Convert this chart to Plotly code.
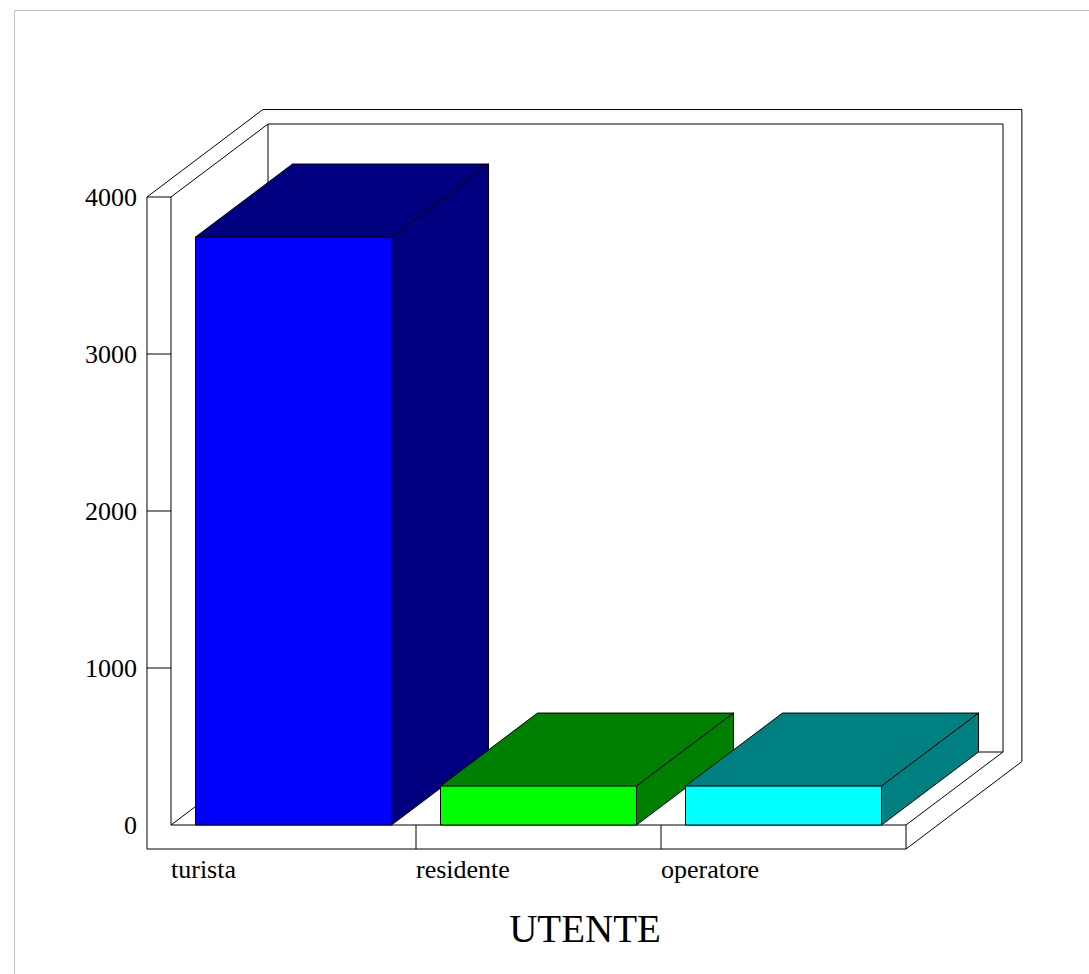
import plotly.graph_objects as go

categories = ["turista", "residente", "operatore"]
values = [3745, 248, 248]
front_colors = ["#0000ff", "#00ff00", "#00ffff"]
side_colors = ["#000080", "#008000", "#008080"]
y_ticks = [0, 1000, 2000, 3000, 4000]
x_title = "UTENTE"

# Scale: one category = 245 px, 1000 units = 157 px
DEPTH_X = 0.396
DEPTH_Y = 465
WALL_X = 0.098
WALL_Y = 153
WALL_DX = 0.473
WALL_DY = 557
BAR_PAD = 0.1
N = len(categories)
Y_MAX = y_ticks[-1]

LINE = dict(color="black", width=1)
fig = go.Figure()


def poly(xs, ys, fill=None):
    fig.add_trace(go.Scatter(
        x=xs, y=ys, mode="lines", line=LINE, cliponaxis=False,
        hoverinfo="skip", showlegend=False,
        fill="toself" if fill else None, fillcolor=fill,
    ))


# Outer frame
poly([-WALL_X, -WALL_X + WALL_DX, N + WALL_DX, N + WALL_DX, N, -WALL_X, -WALL_X],
     [Y_MAX, Y_MAX + WALL_DY, Y_MAX + WALL_DY, WALL_DY - WALL_Y, -WALL_Y, -WALL_Y, Y_MAX])
# Inner wall and floor of the frame
poly([-WALL_X, 0, 0, DEPTH_X, DEPTH_X, N + DEPTH_X, N + DEPTH_X, N, 0],
     [Y_MAX, Y_MAX, 0, DEPTH_Y, Y_MAX + DEPTH_Y, Y_MAX + DEPTH_Y, DEPTH_Y, 0, 0])
poly([0, DEPTH_X], [Y_MAX, Y_MAX + DEPTH_Y])
poly([DEPTH_X, N + DEPTH_X], [DEPTH_Y, DEPTH_Y])
poly([N, N], [0, -WALL_Y])
# Y ticks on the side wall, X separators on the floor edge
for t in y_ticks[1:-1]:
    poly([-WALL_X, 0], [t, t])
for i in range(1, N):
    poly([i, i], [0, -WALL_Y])

# Bars
for i, v in enumerate(values):
    x0, x1 = i + BAR_PAD, i + 1 - BAR_PAD
    poly([x0, x0 + DEPTH_X, x1 + DEPTH_X, x1, x0], [v, v + DEPTH_Y, v + DEPTH_Y, v, v], side_colors[i])
    poly([x1, x1 + DEPTH_X, x1 + DEPTH_X, x1, x1], [0, DEPTH_Y, v + DEPTH_Y, v, 0], side_colors[i])
    poly([x0, x1, x1, x0, x0], [0, 0, v, v, 0], front_colors[i])

annotations = [
    dict(x=i, y=-WALL_Y, xref="x", yref="y", text=c, showarrow=False, xanchor="left", yanchor="top",
         xshift=-2, yshift=-4, font=dict(family="Liberation Serif", size=26, color="black"))
    for i, c in enumerate(categories)
]

W, H = 1089, 974
L, R, T, B = 140, 1030, 100, 860
x_per_px = 1 / 245
y_per_px = 1000 / 157
fig.update_layout(
    width=W, height=H, autosize=False,
    margin=dict(l=L, r=W - R, t=T, b=H - B, pad=0),
    paper_bgcolor="white", plot_bgcolor="white",
    showlegend=False,
    font=dict(family="Liberation Serif", color="black"),
    annotations=annotations,
    xaxis=dict(
        range=[(L - 171) * x_per_px, (R - 171) * x_per_px],
        showgrid=False, zeroline=False, showline=False, showticklabels=False, ticks="",
        fixedrange=True,
        title=dict(text=x_title, font=dict(size=39, family="Liberation Serif"), standoff=54),
        automargin=False,
    ),
    yaxis=dict(
        range=[(825 - B) * y_per_px, (825 - T) * y_per_px],
        tickvals=y_ticks, ticktext=[str(t) for t in y_ticks],
        showgrid=False, zeroline=False, showline=False, ticks="",
        ticklabelstandoff=2, fixedrange=True,
        tickfont=dict(family="Liberation Serif", size=26, color="black"),
        automargin=False,
    ),
    shapes=[
        dict(type="line", xref="paper", yref="paper", layer="below",
             x0=(14.5 - L) / (R - L), x1=(W - L) / (R - L),
             y0=(B - 10.5) / (B - T), y1=(B - 10.5) / (B - T),
             line=dict(color="#c0c0c0", width=1)),
        dict(type="line", xref="paper", yref="paper", layer="below",
             x0=(14.5 - L) / (R - L), x1=(14.5 - L) / (R - L),
             y0=(B - 10.5) / (B - T), y1=(B - H) / (B - T),
             line=dict(color="#c0c0c0", width=1)),
    ],
)

fig.write_html("out.html", config=dict(displayModeBar=False),
               post_script="document.body.style.margin='0';document.body.style.overflow='hidden';")
